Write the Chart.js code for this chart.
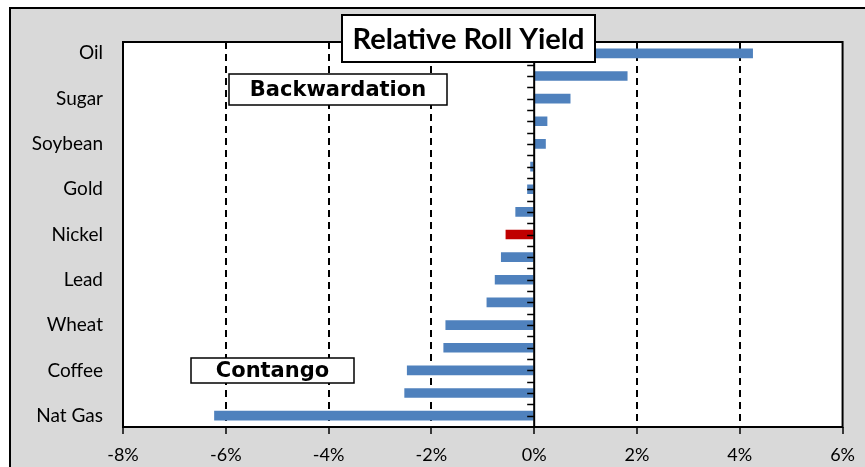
<!DOCTYPE html>
<html>
<head>
<meta charset="utf-8">
<script src="https://cdn.jsdelivr.net/npm/chart.js@4"></script>
<style>
  html, body { margin: 0; padding: 0; background: #fff; }
  #wrap { width: 865px; height: 467px; }
</style>
</head>
<body>
<div id="wrap"><canvas id="rollYieldChart" width="865" height="467"></canvas></div>
<script>
'use strict';

// categories (only every other one is labelled on the chart)
var commodities = ['Oil', '', 'Sugar', '', 'Soybean', '', 'Gold', '', 'Nickel',
  '', 'Lead', '', 'Wheat', '', 'Coffee', '', 'Nat Gas'];
// relative roll yield, %
var rollYield = [4.25, 1.81, 0.70, 0.25, 0.22, -0.07, -0.13, -0.36, -0.55,
  -0.64, -0.76, -0.92, -1.72, -1.76, -2.47, -2.52, -6.22];
var highlighted = 'Nickel';
var xTicks = [-8, -6, -4, -2, 0, 2, 4, 6];

var BLUE = '#4f81bd';
var RED = '#c00000';
var labelFont = 'Lato, "Noto Sans", sans-serif';
var boxFont = '"DejaVu Sans", Verdana, sans-serif';

var barColors = commodities.map(function (c) {
  return c === highlighted ? RED : BLUE;
});

// grey frame + white plot area, drawn behind everything
var framePlugin = {
  id: 'frame',
  beforeDraw: function (chart) {
    var ctx = chart.ctx, a = chart.chartArea;
    ctx.save();
    ctx.fillStyle = '#fff';
    ctx.fillRect(0, 0, chart.width, chart.height);
    ctx.fillStyle = '#d9d9d9';
    ctx.fillRect(10, 8, chart.width, chart.height);
    ctx.strokeStyle = '#000';
    ctx.lineWidth = 2;
    ctx.strokeRect(10, 8, chart.width, chart.height);
    ctx.fillStyle = '#fff';
    ctx.fillRect(a.left, a.top, a.right - a.left, a.bottom - a.top);
    ctx.restore();
  },
  afterDraw: function (chart) {
    var ctx = chart.ctx, a = chart.chartArea;
    ctx.save();
    ctx.strokeStyle = '#000';
    ctx.lineWidth = 2;
    ctx.strokeRect(a.left, a.top, a.right - a.left, a.bottom - a.top);
    ctx.restore();
  }
};

// vertical category axis through 0% with small tick marks
var zeroAxisPlugin = {
  id: 'zeroAxis',
  afterDatasetsDraw: function (chart) {
    var ctx = chart.ctx, a = chart.chartArea;
    var x0 = chart.scales.x.getPixelForValue(0);
    var ys = chart.scales.y;
    ctx.save();
    ctx.strokeStyle = '#000';
    ctx.lineWidth = 2;
    ctx.beginPath();
    ctx.moveTo(x0, a.top);
    ctx.lineTo(x0, a.bottom);
    ctx.stroke();
    ctx.lineWidth = 1.5;
    for (var i = -0.5; i <= commodities.length - 0.5; i += 0.5) {
      var y = Math.round(ys.getPixelForValue(i)) + 0.5;
      if (y <= a.top + 1 || y >= a.bottom - 1) continue;
      ctx.beginPath();
      ctx.moveTo(x0 - 7, y);
      ctx.lineTo(x0, y);
      ctx.stroke();
    }
    ctx.restore();
  }
};

function drawBox(ctx, x, y, w, h, text, font) {
  ctx.fillStyle = '#fff';
  ctx.fillRect(x, y, w, h);
  ctx.strokeStyle = '#000';
  ctx.strokeRect(x, y, w, h);
  ctx.fillStyle = '#000';
  ctx.font = font;
  ctx.textAlign = 'center';
  ctx.textBaseline = 'middle';
  ctx.fillText(text, x + w / 2, y + h / 2 + 1);
}

var annotationPlugin = {
  id: 'boxes',
  afterDraw: function (chart) {
    var ctx = chart.ctx;
    ctx.save();
    ctx.lineWidth = 1.5;
    drawBox(ctx, 229, 74, 218, 31, 'Backwardation', 'bold 21px ' + boxFont);
    drawBox(ctx, 191, 358, 163, 25, 'Contango', 'bold 21px ' + boxFont);
    ctx.lineWidth = 2;
    drawBox(ctx, 342, 15, 253, 47, 'Relative Roll Yield', 'bold 29px ' + labelFont);
    ctx.restore();
  }
};

var ctx = document.getElementById('rollYieldChart').getContext('2d');
var rollChart = new Chart(ctx, {
  type: 'bar',
  data: {
    labels: commodities,
    datasets: [{
      data: rollYield,
      backgroundColor: barColors,
      borderWidth: 0,
      barThickness: 9
    }]
  },
  options: {
    indexAxis: 'y',
    responsive: false,
    animation: false,
    layout: { padding: { top: 42, right: 17, left: 0, bottom: 0 } },
    plugins: {
      legend: { display: false },
      tooltip: { enabled: false }
    },
    scales: {
      x: {
        type: 'linear',
        min: -8,
        max: 6,
        afterBuildTicks: function (scale) {
          scale.ticks = xTicks.map(function (v) { return { value: v }; });
        },
        afterFit: function (scale) { scale.height = 40; },
        border: { display: false, dash: [7, 5] },
        grid: {
          color: function (c) {
            var v = c.tick && c.tick.value;
            return (v === -8 || v === 0 || v === 6) ? 'rgba(0,0,0,0)' : '#000';
          },
          lineWidth: 2,
          tickLength: 7,
          tickColor: '#000',
          tickWidth: 1.5,
          tickBorderDash: []
        },
        ticks: {
          padding: 10,
          color: '#000',
          font: { family: labelFont, size: 18 },
          callback: function (v) { return v + '%'; }
        }
      },
      y: {
        afterFit: function (scale) { scale.width = 123; },
        border: { display: false },
        grid: { display: false, drawTicks: false },
        ticks: {
          autoSkip: false,
          padding: 20,
          color: '#000',
          font: { family: labelFont, size: 19 },
          callback: function (v, i) { return i % 2 === 0 ? commodities[i] : ''; }
        }
      }
    }
  },
  plugins: [framePlugin, zeroAxisPlugin, annotationPlugin]
});
</script>
</body>
</html>
